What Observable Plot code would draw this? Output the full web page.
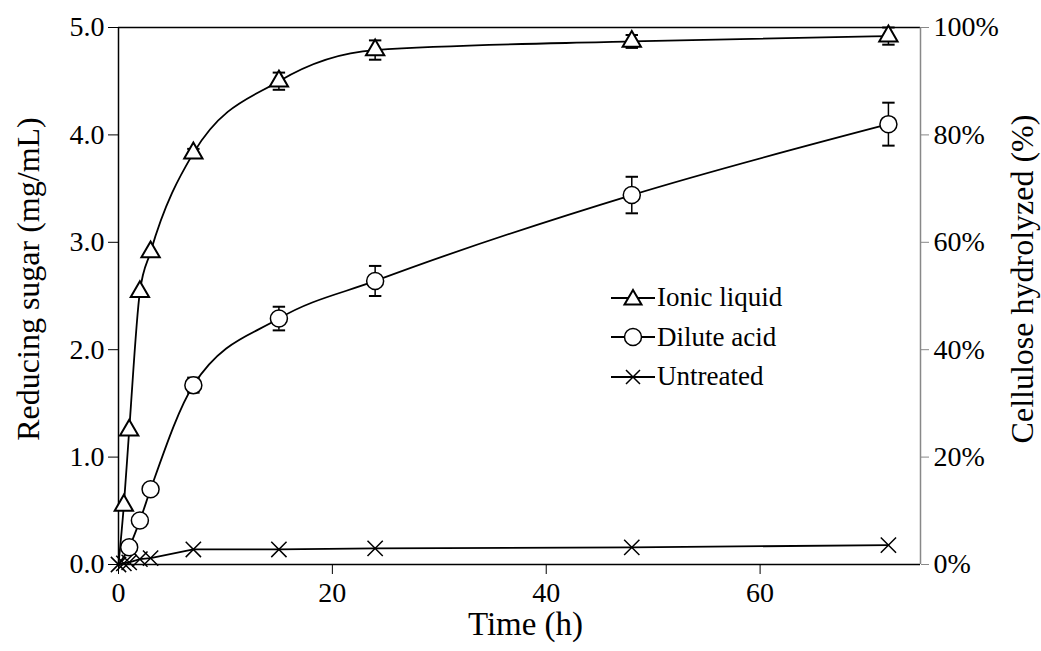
<!DOCTYPE html>
<html>
<head>
<meta charset="utf-8">
<script src="https://cdn.jsdelivr.net/npm/d3@7"></script>
<script src="https://cdn.jsdelivr.net/npm/@observablehq/plot@0.6"></script>
<style>
  html, body { margin: 0; padding: 0; background: #fff; }
  #wrap { position: relative; width: 1041px; height: 651px; font-family: "Liberation Serif", serif; }
  #legend { position: absolute; left: 610px; top: 278px; font-size: 27px; color: #000; }
  #legend .row { display: flex; align-items: center; height: 39.5px; }
  #legend svg { margin-right: 1px; }
</style>
</head>
<body>
<div id="wrap"><div id="chart"></div><div id="legend"></div></div>
<script>
// ---- data ----
const seriesNames = ["Ionic liquid", "Dilute acid", "Untreated"];
const ionicTime  = [0, 0.5, 1, 2, 3, 7, 15, 24, 48, 72];
const ionicSugar = [0, 0.55, 1.25, 2.54, 2.91, 3.83, 4.50, 4.79, 4.87, 4.92];
const ionicErr   = [0, 0, 0, 0, 0, 0.04, 0.08, 0.09, 0.06, 0.08];
const acidTime   = [0, 1, 2, 3, 7, 15, 24, 48, 72];
const acidSugar  = [0, 0.16, 0.41, 0.70, 1.67, 2.29, 2.64, 3.44, 4.10];
const acidErr    = [0, 0, 0, 0, 0.07, 0.11, 0.14, 0.17, 0.20];
const untrTime   = [0, 0.5, 1, 2, 3, 7, 15, 24, 48, 72];
const untrSugar  = [0, 0.01, 0.02, 0.05, 0.06, 0.14, 0.14, 0.15, 0.16, 0.18];
const xTicks = [0, 20, 40, 60];
const yTicks = [0, 1, 2, 3, 4, 5];
const pctTicks = [0, 20, 40, 60, 80, 100];
const xMax = 75;

const rows = (name, t, v, e) => t.map((d, i) => ({series: name, t: d, v: v[i], e: e ? e[i] : 0}));
const ionic = rows(seriesNames[0], ionicTime, ionicSugar, ionicErr);
const acid = rows(seriesNames[1], acidTime, acidSugar, acidErr);
const untr = rows(seriesNames[2], untrTime, untrSugar, null);
const withErr = [...ionic, ...acid].filter(d => d.e > 0);

const capSymbol = { draw(ctx, size) { const w = Math.sqrt(size); ctx.moveTo(-w / 2, 0); ctx.lineTo(w / 2, 0); } };

const chart = Plot.plot({
  width: 1041, height: 651,
  marginLeft: 118, marginRight: 121, marginTop: 27, marginBottom: 87,
  style: { fontFamily: "Liberation Serif, serif", fontSize: "28px", color: "#000", background: "#fff" },
  x: { domain: [0, xMax] },
  y: { domain: [0, 5] },
  marks: [
    Plot.axisX({ ticks: xTicks, tickSize: 10, tickPadding: 8, label: null, fontSize: 28 }),
    Plot.axisY({ anchor: "left", ticks: yTicks, tickSize: 10, tickPadding: 4, tickFormat: d3.format(".1f"), label: null, fontSize: 28 }),
    Plot.axisY({ anchor: "right", ticks: pctTicks.map(p => p / 20), tickSize: 8, tickPadding: 5, stroke: "#888",
                 tickFormat: d => `${Math.round(d * 20)}%`, label: null, fontSize: 28 }),
    Plot.ruleY([0, 5], { stroke: "#000", strokeWidth: 1.5 }),
    Plot.ruleX([0], { stroke: "#000", strokeWidth: 1.5 }),
    Plot.ruleX([xMax], { stroke: "#888", strokeWidth: 1.5 }),
    Plot.text(["Time (h)"], { frameAnchor: "bottom", textAnchor: "middle", dx: 6, dy: 70, fontSize: 33 }),
    Plot.text(["Reducing sugar (mg/mL)"], { frameAnchor: "left", textAnchor: "middle", rotate: -90, dx: -90, dy: -17, fontSize: 32 }),
    Plot.text(["Cellulose hydrolyzed (%)"], { frameAnchor: "right", textAnchor: "middle", rotate: -90, dx: 102, dy: -17, fontSize: 32 }),
    Plot.ruleX(withErr, { x: "t", y1: d => d.v - d.e, y2: d => d.v + d.e, stroke: "#000", strokeWidth: 1.5 }),
    Plot.dot(withErr, { x: "t", y: d => d.v + d.e, symbol: capSymbol, r: 7, stroke: "#000", strokeWidth: 2 }),
    Plot.dot(withErr, { x: "t", y: d => d.v - d.e, symbol: capSymbol, r: 7, stroke: "#000", strokeWidth: 2 }),
    Plot.line(ionic, { x: "t", y: "v", curve: "monotone-x", stroke: "#000", strokeWidth: 1.8 }),
    Plot.line(acid, { x: "t", y: "v", curve: "monotone-x", stroke: "#000", strokeWidth: 1.8 }),
    Plot.line(untr, { x: "t", y: "v", stroke: "#000", strokeWidth: 1.8 }),
    Plot.dot(untr, { x: "t", y: "v", symbol: "times", r: 7, stroke: "#000", strokeWidth: 1.5 }),
    Plot.dot(acid.filter(d => d.t > 0), { x: "t", y: "v", symbol: "circle", r: 8.5, fill: "#fff", stroke: "#000", strokeWidth: 1.5 }),
    Plot.dot(ionic.filter(d => d.t > 0), { x: "t", y: "v", symbol: "triangle", r: 6.8, fill: "#fff", stroke: "#000", strokeWidth: 2 })
  ]
});
document.getElementById("chart").appendChild(chart);

// ---- legend ----
const symbolSvg = {
  "Ionic liquid": '<path d="M0,-8L8.5,6.5L-8.5,6.5Z" fill="#fff" stroke="#000" stroke-width="2"/>',
  "Dilute acid": '<circle r="8.5" fill="#fff" stroke="#000" stroke-width="1.5"/>',
  "Untreated": '<path d="M-7,-7L7,7M-7,7L7,-7" stroke="#000" stroke-width="1.5"/>'
};
const legend = document.getElementById("legend");
for (const name of seriesNames) {
  const row = document.createElement("div");
  row.className = "row";
  row.innerHTML = `<svg width="46" height="30" viewBox="-23 -15 46 30"><line x1="-22" x2="22" y1="0" y2="0" stroke="#000" stroke-width="1.8"/>${symbolSvg[name]}</svg><span>${name}</span>`;
  legend.appendChild(row);
}
</script>
</body>
</html>
